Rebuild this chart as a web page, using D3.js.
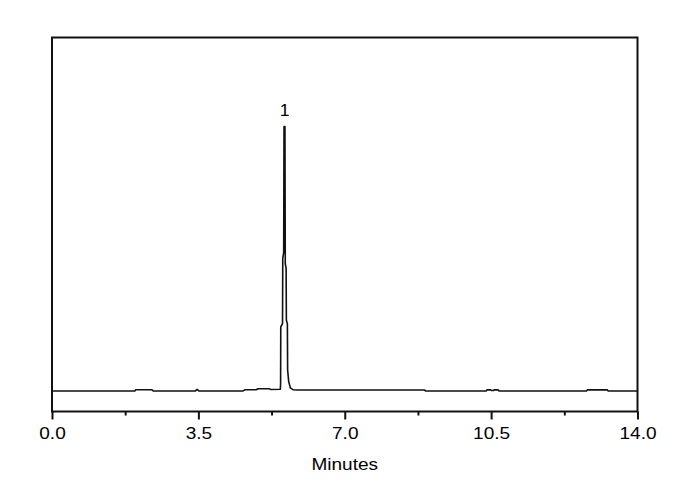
<!DOCTYPE html>
<html>
<head>
<meta charset="utf-8">
<script src="https://cdn.jsdelivr.net/npm/d3@7"></script>
<style>
html,body{margin:0;padding:0;background:#fff;}
svg text{font-family:Arial,"Liberation Sans",sans-serif;fill:#000;}
</style>
</head>
<body>
<svg id="chart" width="690" height="490"></svg>
<script>
// Chromatogram trace: time (minutes) and detector signal (baseline-relative units)
const timeMin = [0, 1.985, 2.0, 2.03, 2.39, 2.42, 3.43, 3.46, 3.48, 3.51, 4.57, 4.61, 4.88, 4.93, 5.19, 5.22, 5.46,
  5.466, 5.470, 5.512, 5.518, 5.540, 5.548, 5.570, 5.578, 5.598, 5.604, 5.628, 5.634, 5.66, 5.70, 5.77, 5.86,
  8.90, 8.94, 10.38, 10.40, 10.49, 10.51, 10.55, 10.57, 10.67, 10.69, 12.78, 12.80, 13.28, 13.30, 14.0];
const signal = [0, 0, 0.3, 0.3, 0.3, 0, 0, 0.35, 0.35, 0, 0, 0.3, 0.3, 0.6, 0.6, 0.4, 0.45,
  2, 17.1, 18, 35.5, 37, 70.7, 70.7, 34, 32.8, 18.9, 18, 5.6, 2.5, 0.8, 0.3, 0.24,
  0.24, 0, 0, 0.27, 0.27, 0.1, 0.1, 0.27, 0.27, 0, 0, 0.27, 0.27, 0, 0];
const majorTicks = [0, 3.5, 7, 10.5, 14];
const minorTicks = [1.75, 5.25, 8.75, 12.25];
const tickLabels = ["0.0", "3.5", "7.0", "10.5", "14.0"];
const peakLabels = [{t: 5.56, s: 70.7, label: "1"}];
const xTitle = "Minutes";

const L = 52, R = 637.5, T = 37.5, B = 411.5;
const svg = d3.select("#chart");
const x = d3.scaleLinear().domain([0, 14]).range([L, R]);
const y = d3.scaleLinear().domain([-5.5, 94.5]).range([B, T]);

// trace
const data = timeMin.map((t, i) => ({t, s: signal[i]}));
const line = d3.line().x(d => x(d.t)).y(d => y(d.s));
svg.append("path").datum(data).attr("d", line)
  .attr("fill", "none").attr("stroke", "#111").attr("stroke-width", 1.6)
  .attr("stroke-linejoin", "round");

// frame
svg.append("rect").attr("x", L).attr("y", T).attr("width", R - L).attr("height", B - T)
  .attr("fill", "none").attr("stroke", "#111").attr("stroke-width", 2);

// major axis ticks + labels
const ax = svg.append("g").attr("transform", `translate(0,${B})`)
  .call(d3.axisBottom(x).tickValues(majorTicks).tickSize(8).tickSizeOuter(0)
    .tickFormat((d, i) => tickLabels[i]));
ax.attr("font-size", null).attr("font-family", null);
ax.select(".domain").remove();
ax.selectAll(".tick line").attr("stroke", "#111").attr("stroke-width", 2);
ax.selectAll(".tick text").attr("y", 27.8).attr("dy", null)
  .style("font-size", "17px").attr("transform", "scale(1.12,1)")
  .attr("fill", "#000");

// minor ticks
svg.append("g").attr("transform", `translate(0,${B})`)
  .call(d3.axisBottom(x).tickValues(minorTicks).tickSize(4).tickSizeOuter(0).tickFormat(""))
  .call(g => g.select(".domain").remove())
  .selectAll(".tick line").attr("stroke", "#111").attr("stroke-width", 2);

// peak labels
svg.selectAll(".pk").data(peakLabels).enter().append("text")
  .attr("class", "pk")
  .attr("transform", d => `translate(${x(d.t)},${y(d.s) - 10.3}) scale(1.1,1)`)
  .attr("text-anchor", "middle").style("font-size", "16px").text(d => d.label);

// axis title
svg.append("text").attr("transform", `translate(${(L + R) / 2},470.3) scale(1.12,1)`)
  .attr("text-anchor", "middle").style("font-size", "17px").text(xTitle);
</script>
</body>
</html>
